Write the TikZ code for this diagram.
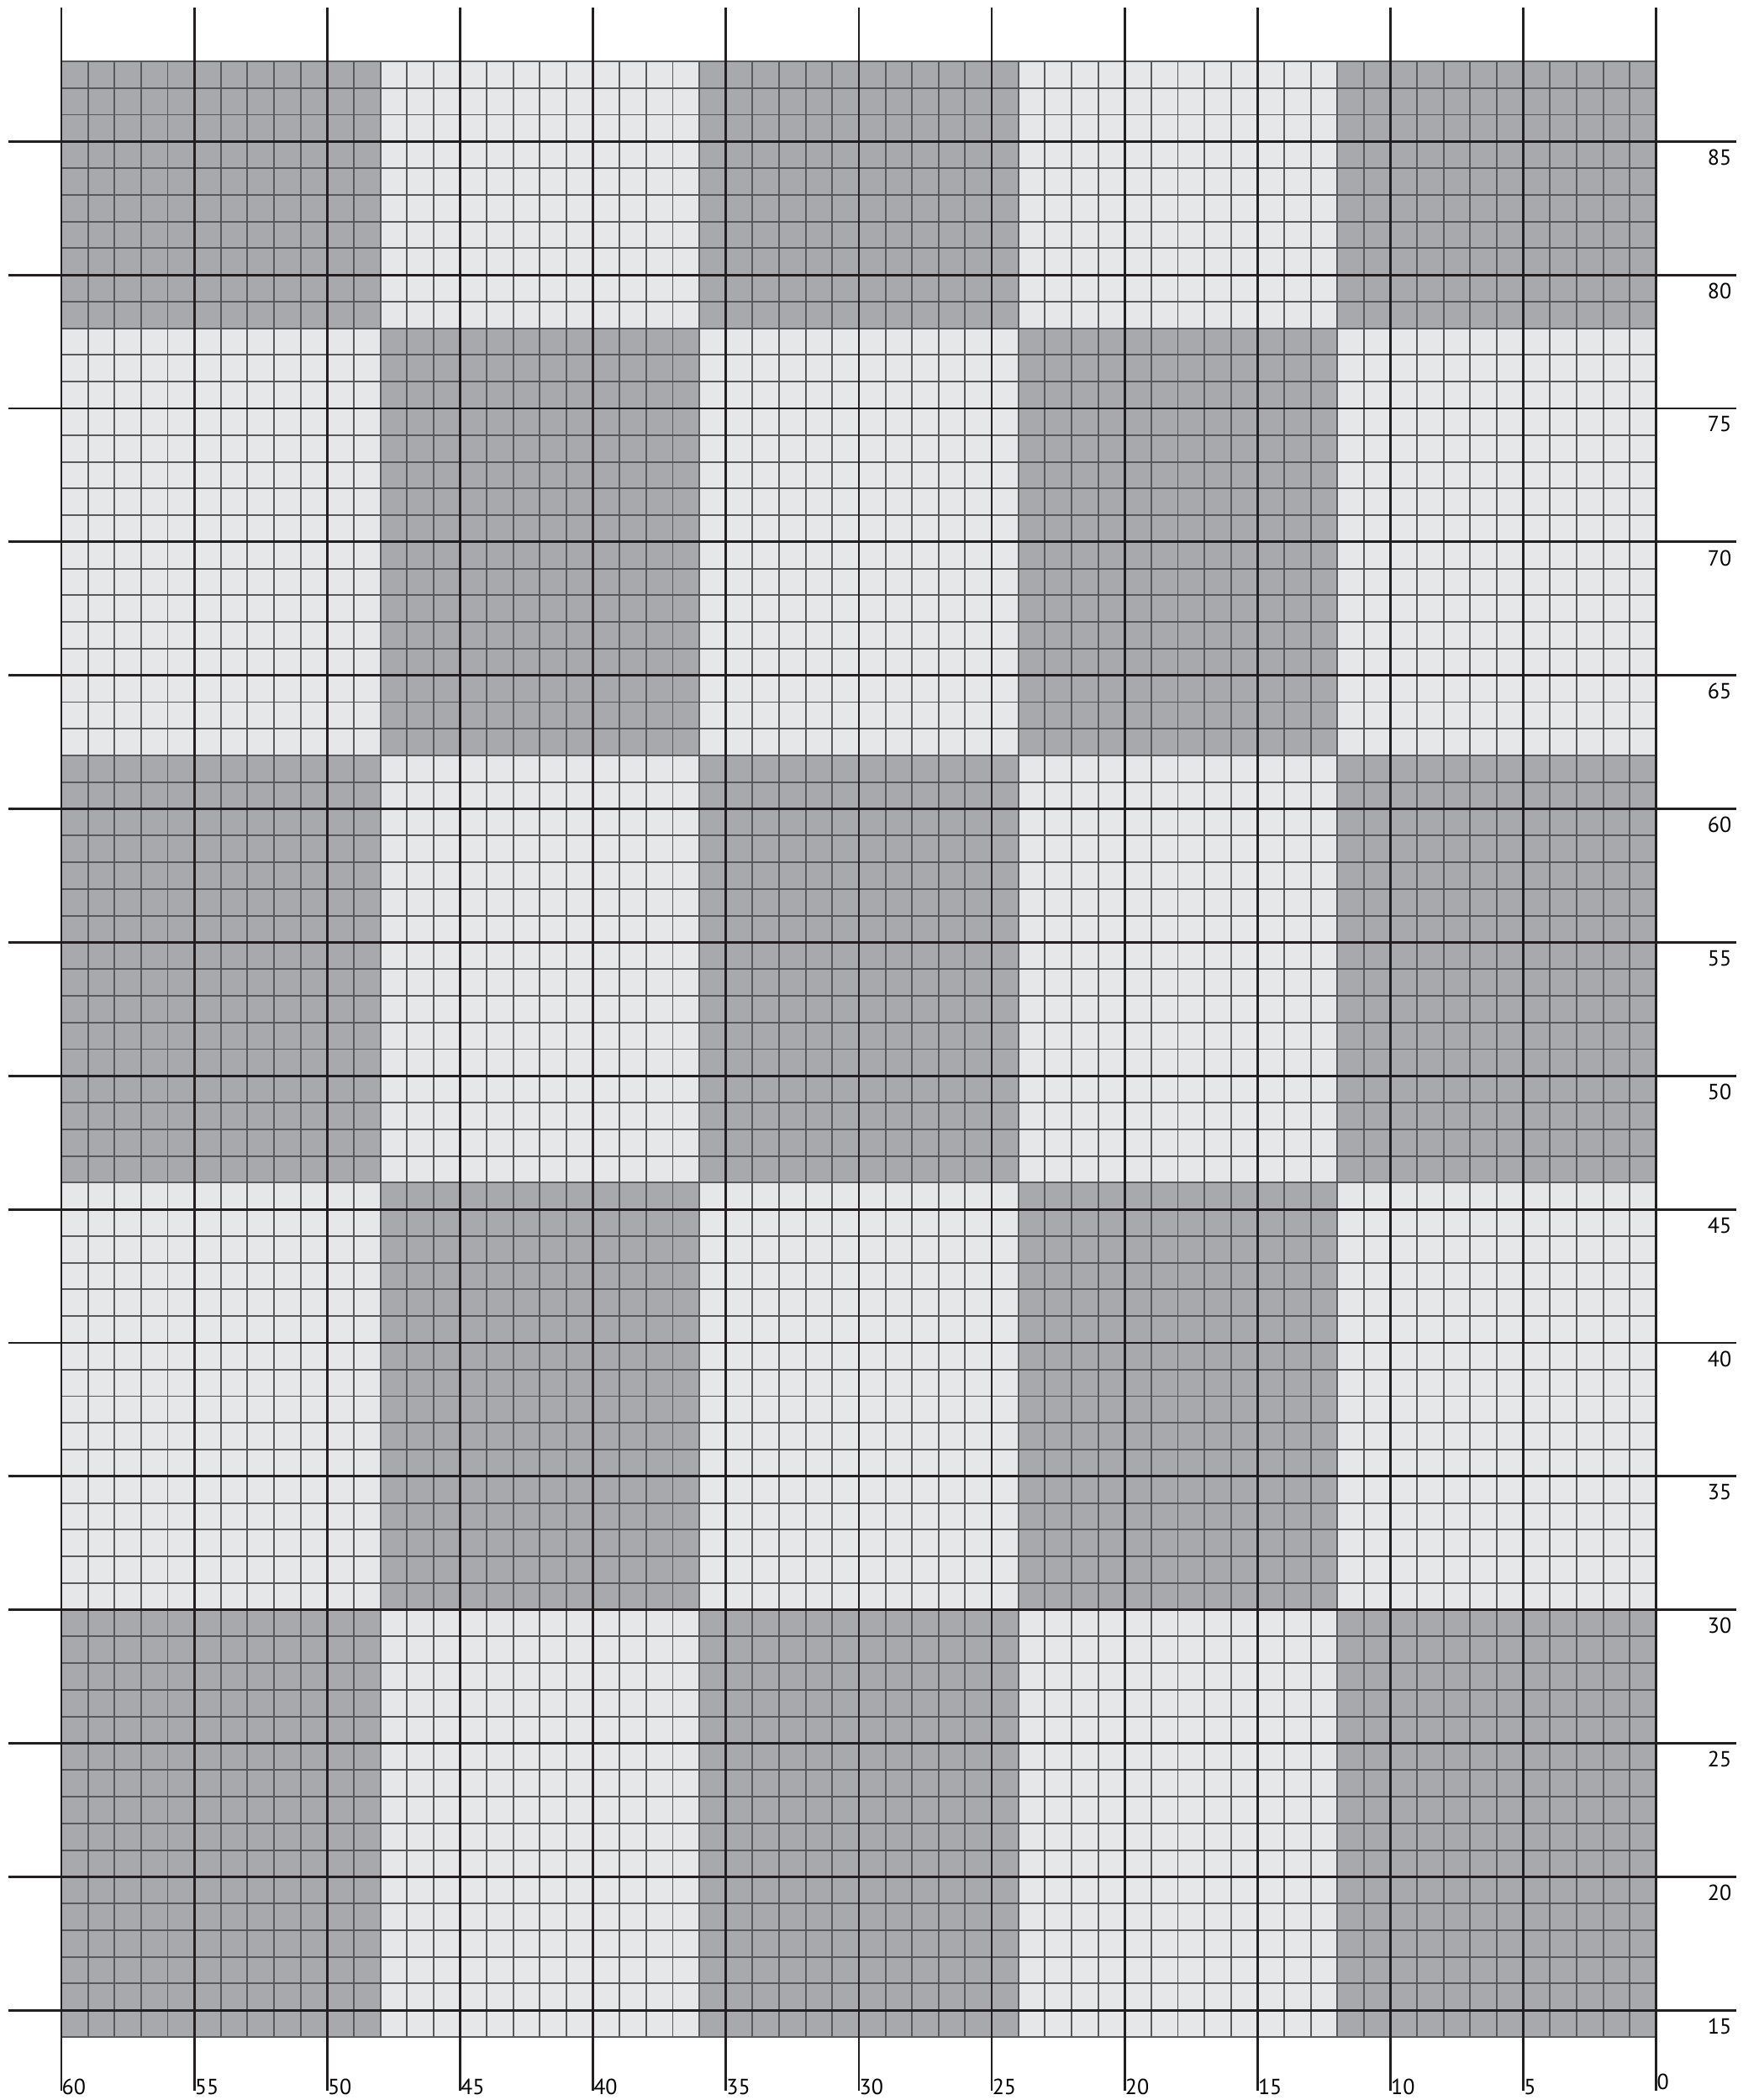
\documentclass[tikz,border=0pt]{standalone}
\usepackage{fontspec}
\setmainfont{PT Sans}
\usepackage{xcolor}
\usepackage{tikz}
\usetikzlibrary{positioning}

\definecolor{darkcell}{HTML}{A7A9AC}
\definecolor{lightcell}{HTML}{E6E7E8}
\definecolor{gridgray}{HTML}{58595B}
\definecolor{majorblack}{HTML}{231F20}

\begin{document}
\begin{tikzpicture}[
    x=0.3163cm, y=0.3177cm,
    minor/.style={draw=gridgray, line width=0.55pt},
    major/.style={draw=majorblack, line width=0.8pt},
    rowlabel/.style={font=\fontsize{7.4}{8}\selectfont, anchor=north east, inner sep=0pt},
    collabel/.style={font=\fontsize{7.4}{8}\selectfont, anchor=base west, inner sep=0pt},
]
\useasboundingbox (-0.73cm,-0.75cm) rectangle (20.20cm,24.24cm);

% Colour blocks (12 stitches wide; top band 10 rows, the others 16)
\foreach \b in {0,...,4} {
  \foreach \r/\y/\h in {0/64/10, 1/48/16, 2/32/16, 3/16/16, 4/0/16} {
    \pgfmathtruncatemacro{\s}{\b+\r}
    \ifodd\s
      \fill[lightcell] (12*\b,\y) rectangle ++(12,\h);
    \else
      \fill[darkcell] (12*\b,\y) rectangle ++(12,\h);
    \fi
  }
}

% Fine grid, one square per stitch
\draw[minor, xstep=1, ystep=1] (0,0) grid (60,74);

% Every fifth stitch and row, with ticks outside the chart
\foreach \i in {0,5,...,60} {
  \draw[major] (\i,-2) -- (\i,76);
}
\foreach \j in {1,6,...,71} {
  \draw[major] (-2,\j) -- (63,\j);
}

% Row numbers (right)
\foreach \j in {1,6,...,71} {
  \pgfmathtruncatemacro{\v}{\j+14}
  \node[rowlabel] (row\v) at ([yshift=-0.09cm]62.85,\j) {\v};
}

% Stitch numbers (bottom)
\foreach \i in {0,5,...,55} {
  \pgfmathtruncatemacro{\v}{60-\i}
  \node[collabel] (col\v) at (\i,-2.17) {\v};
}
\node[collabel] (col0) at (60,-1.98) {0};
\end{tikzpicture}
\end{document}
